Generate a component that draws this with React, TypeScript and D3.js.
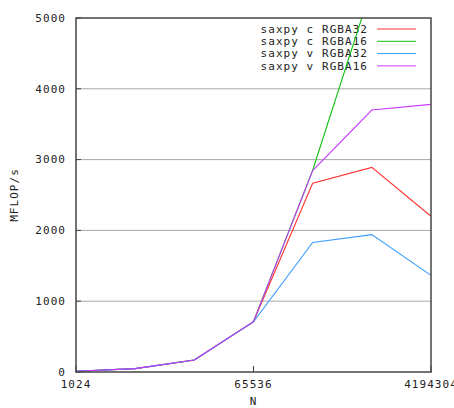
import { useRef, useEffect } from 'react';
import * as d3 from 'd3';

// problem sizes (N) and MFLOP/s per series
const sizes = [1024, 4096, 16384, 65536, 262144, 1048576, 4194304];
const saxpyCRGBA32 = [10, 48, 170, 710, 2665, 2890, 2200];
const saxpyCRGBA16 = [10, 48, 170, 710, 2850, 5440, 6200];
const saxpyVRGBA32 = [10, 48, 170, 710, 1830, 1940, 1365];
const saxpyVRGBA16 = [10, 48, 170, 710, 2845, 3700, 3780];

const seriesNames = ['saxpy c RGBA32', 'saxpy c RGBA16', 'saxpy v RGBA32', 'saxpy v RGBA16'];
const seriesColors = ['#ff3030', '#10c010', '#3c9cff', '#c838ff'];
const xTicks = [1024, 65536, 4194304];
const yTicks = [0, 1000, 2000, 3000, 4000, 5000];

const App = () => {
  const svgRef = useRef<SVGSVGElement>(null);

  useEffect(() => {
    const svg = d3.select(svgRef.current);
    svg.selectAll('*').remove();

    const left = 76, right = 431, top = 18, bottom = 372;
    const font = '"DejaVu Sans Mono", monospace';
    const fs = 11;
    const ls = 1.05;

    const x = d3.scaleLog().base(2).domain([1024, 4194304]).range([left, right]);
    const y = d3.scaleLinear().domain([0, 5000]).range([bottom, top]);

    svg.append('defs').append('clipPath').attr('id', 'plotclip')
      .append('rect')
      .attr('x', left).attr('y', top)
      .attr('width', right - left).attr('height', bottom - top);

    // horizontal grid
    svg.append('g')
      .selectAll('line')
      .data(yTicks.filter(d => d > 0 && d < 5000))
      .enter().append('line')
      .attr('x1', left).attr('x2', right)
      .attr('y1', d => y(d)).attr('y2', d => y(d))
      .attr('stroke', '#a8a8a8')
      .attr('stroke-width', 1);

    // tick marks
    svg.append('g')
      .selectAll('line')
      .data(yTicks)
      .enter().append('line')
      .attr('x1', left).attr('x2', left + 5)
      .attr('y1', d => y(d)).attr('y2', d => y(d))
      .attr('stroke', '#404040');
    svg.append('g')
      .selectAll('line')
      .data(xTicks)
      .enter().append('line')
      .attr('x1', d => x(d)).attr('x2', d => x(d))
      .attr('y1', bottom).attr('y2', bottom - 6)
      .attr('stroke', '#404040');

    // y labels
    svg.append('g')
      .selectAll('text')
      .data(yTicks)
      .enter().append('text')
      .attr('x', 66)
      .attr('y', d => y(d))
      .attr('dy', '0.35em')
      .attr('text-anchor', 'end')
      .attr('font-family', font)
      .attr('font-size', fs)
      .attr('letter-spacing', ls)
      .attr('fill', '#222')
      .text(d => d);

    // x labels
    svg.append('g')
      .selectAll('text')
      .data(xTicks)
      .enter().append('text')
      .attr('x', d => x(d))
      .attr('y', 384)
      .attr('dy', '0.35em')
      .attr('text-anchor', 'middle')
      .attr('font-family', font)
      .attr('font-size', fs)
      .attr('letter-spacing', ls)
      .attr('fill', '#222')
      .text(d => d);

    svg.append('text')
      .attr('x', 253).attr('y', 401)
      .attr('dy', '0.35em')
      .attr('text-anchor', 'middle')
      .attr('font-family', font)
      .attr('font-size', fs)
      .attr('fill', '#222')
      .text('N');

    svg.append('text')
      .attr('transform', `translate(14,${(top + bottom) / 2}) rotate(-90)`)
      .attr('dy', '0.35em')
      .attr('text-anchor', 'middle')
      .attr('font-family', font)
      .attr('font-size', fs)
      .attr('letter-spacing', ls)
      .attr('fill', '#222')
      .text('MFLOP/s');

    // legend
    const legend = svg.append('g');
    seriesNames.forEach((name, i) => {
      const ly = 29 + i * 12.3;
      legend.append('text')
        .attr('x', 368).attr('y', ly)
        .attr('dy', '0.35em')
        .attr('text-anchor', 'end')
        .attr('font-family', font)
        .attr('font-size', fs)
        .attr('letter-spacing', ls)
        .attr('fill', '#222')
        .text(name);
      legend.append('line')
        .attr('x1', 377).attr('x2', 416)
        .attr('y1', ly).attr('y2', ly)
        .attr('stroke', seriesColors[i])
        .attr('stroke-width', 1);
    });

    // lines
    const allSeries = [saxpyCRGBA32, saxpyCRGBA16, saxpyVRGBA32, saxpyVRGBA16];
    const line = d3.line<number>()
      .x((_, i) => x(sizes[i]))
      .y(d => y(d));
    const lines = svg.append('g').attr('clip-path', 'url(#plotclip)');
    allSeries.forEach((s, i) => {
      lines.append('path')
        .attr('d', line(s))
        .attr('fill', 'none')
        .attr('stroke', seriesColors[i])
        .attr('stroke-width', 1.1);
    });

    // border
    svg.append('rect')
      .attr('x', left).attr('y', top)
      .attr('width', right - left).attr('height', bottom - top)
      .attr('fill', 'none')
      .attr('stroke', '#444')
      .attr('stroke-width', 1.5);
  }, []);

  return (
    <div style={{ position: 'absolute', left: 0, top: 0 }}>
      <svg ref={svgRef} width="454" height="408" style={{ display: 'block', background: '#fff' }}></svg>
    </div>
  );
};

export default App;
